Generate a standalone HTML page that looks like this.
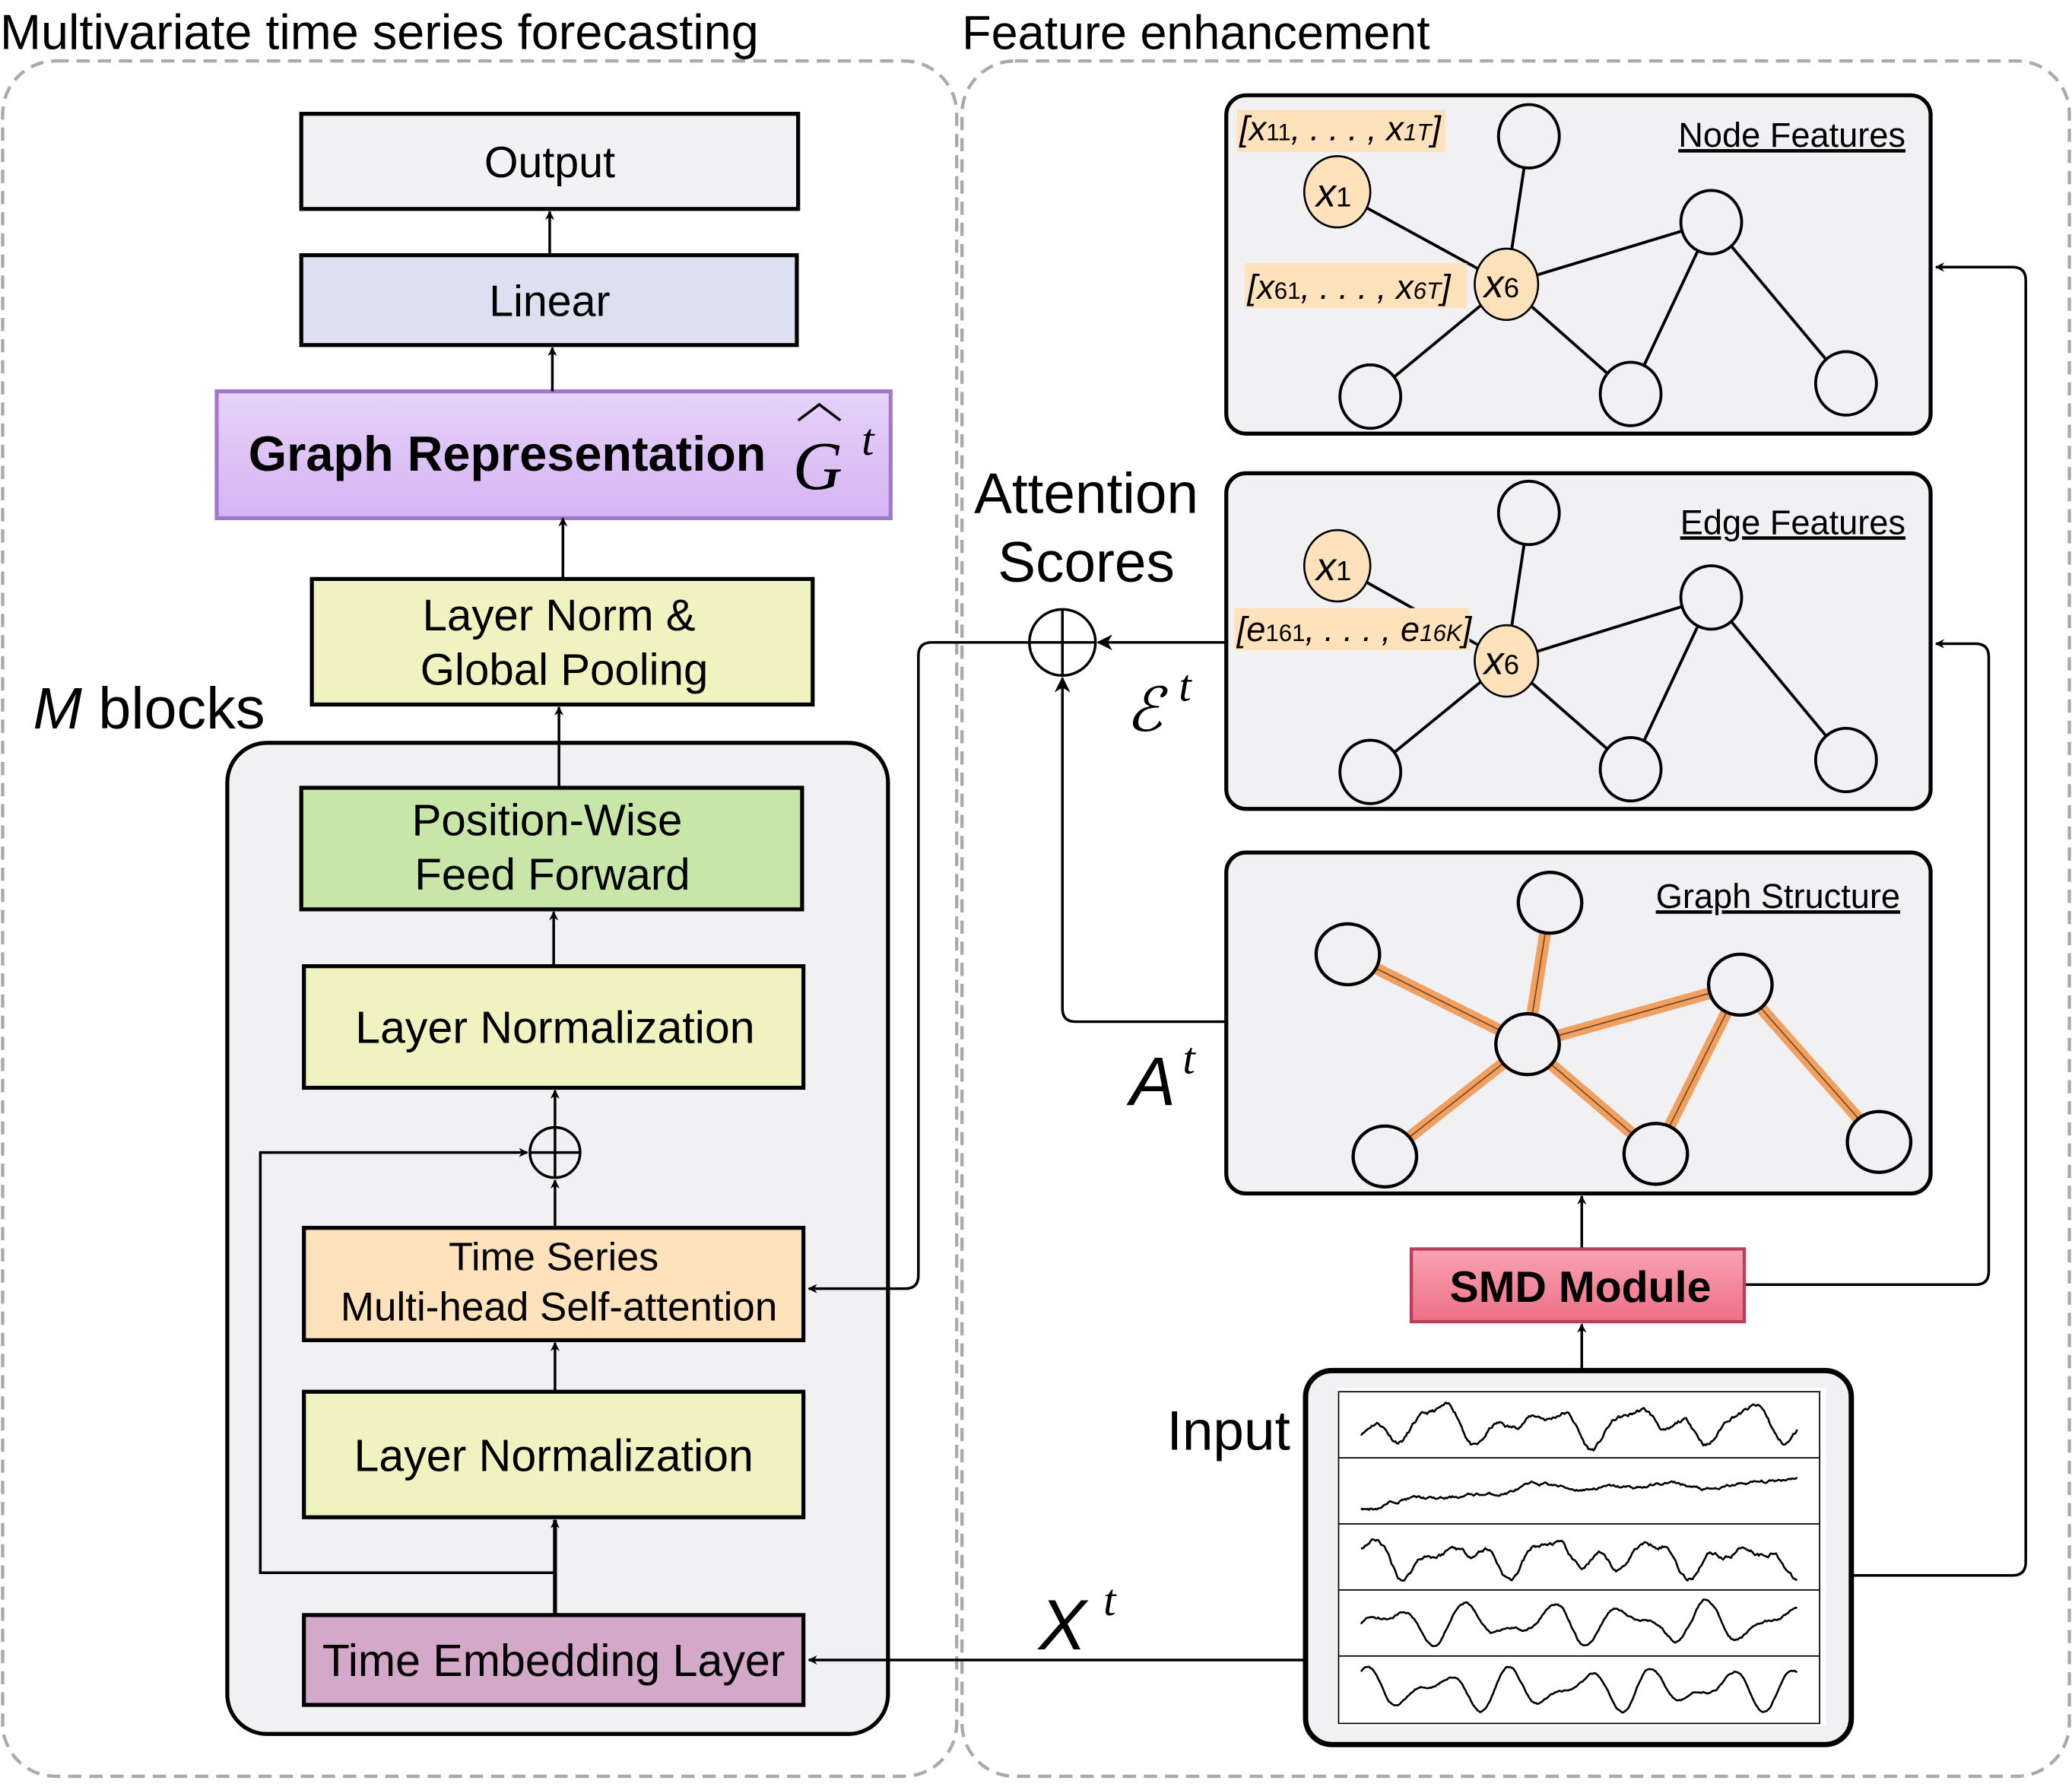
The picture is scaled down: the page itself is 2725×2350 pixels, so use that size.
<!DOCTYPE html>
<html><head><meta charset="utf-8">
<style>
html,body{margin:0;padding:0;background:#fff;}
svg{display:block;}
text{font-family:"Liberation Sans",sans-serif;}
.m{font-family:"Liberation Serif",serif;font-style:italic;}
.s{font-family:"Liberation Sans",sans-serif;font-style:italic;}
</style></head>
<body>
<svg id="s" width="2725" height="2350" viewBox="0 0 1568 1352" xmlns="http://www.w3.org/2000/svg">
<defs>
<marker id="ah" viewBox="0 0 10 10" refX="9" refY="5" markerWidth="7" markerHeight="7" orient="auto-start-reverse" markerUnits="userSpaceOnUse">
<path d="M0,0 L10,5 L0,10 L3,5 z" fill="#000"/></marker>
<marker id="ah2" viewBox="0 0 10 10" refX="9" refY="5" markerWidth="12" markerHeight="12" orient="auto" markerUnits="userSpaceOnUse">
<path d="M0,0 L10,5 L0,10 L3,5 z" fill="#000"/></marker>
<linearGradient id="gp" x1="0" y1="0" x2="0" y2="1"><stop offset="0" stop-color="#e6d2fa"/><stop offset="1" stop-color="#d4b4f2"/></linearGradient>
<linearGradient id="gs" x1="0" y1="0" x2="0" y2="1"><stop offset="0" stop-color="#f9a3b3"/><stop offset="1" stop-color="#ee6f86"/></linearGradient>
</defs>

<text x="0" y="37" font-size="37.3">Multivariate time series forecasting</text>
<text x="728" y="37" font-size="36.2">Feature enhancement</text>
<rect x="2" y="46" width="722" height="1298" rx="40" fill="none" stroke="#aaa" stroke-width="2.5" stroke-dasharray="10,6"/>
<rect x="728" y="46" width="838" height="1298" rx="40" fill="none" stroke="#aaa" stroke-width="2.5" stroke-dasharray="10,6"/>

<rect x="228" y="86" width="376" height="72" fill="#f2f2f4" stroke="#000" stroke-width="3"/>
<text x="416" y="134" font-size="33" text-anchor="middle">Output</text>
<rect x="228" y="193" width="375" height="68" fill="#dde0f0" stroke="#000" stroke-width="3"/>
<text x="416" y="239" font-size="33" text-anchor="middle">Linear</text>
<rect x="164" y="296" width="510" height="96" fill="url(#gp)" stroke="#a577cc" stroke-width="3"/>
<text x="188" y="356" font-size="37.3" font-weight="bold">Graph Representation</text>
<text x="600" y="370" font-size="52" class="m">G</text>
<path d="M604,318 L620,306 L636,318" fill="none" stroke="#000" stroke-width="2"/>
<text x="652" y="344" font-size="34" class="m">t</text>
<rect x="236" y="438" width="379" height="95" fill="#f0f2c0" stroke="#000" stroke-width="3"/>
<text x="423" y="477" font-size="33.5" text-anchor="middle">Layer Norm &amp;</text>
<text x="427" y="518" font-size="33.5" text-anchor="middle">Global Pooling</text>
<text x="25" y="551" font-size="44.5"><tspan font-style="italic">M</tspan> blocks</text>
<rect x="172" y="562" width="500" height="750" rx="30" fill="#f1f1f3" stroke="#000" stroke-width="3"/>
<rect x="228" y="596" width="379" height="92" fill="#c7e6a8" stroke="#000" stroke-width="3"/>
<text x="414" y="632" font-size="33.5" text-anchor="middle">Position-Wise</text>
<text x="418" y="673" font-size="33.5" text-anchor="middle">Feed Forward</text>
<rect x="230" y="731" width="378" height="92" fill="#f0f2c0" stroke="#000" stroke-width="3"/>
<text x="420" y="789" font-size="34" text-anchor="middle">Layer Normalization</text>
<circle cx="420" cy="872" r="19" fill="none" stroke="#000" stroke-width="2"/>
<path d="M401,872 H439 M420,853 V891" stroke="#000" stroke-width="2"/>
<rect x="230" y="929" width="378" height="85" fill="#fde2bb" stroke="#000" stroke-width="3"/>
<text x="419" y="961" font-size="30" text-anchor="middle">Time Series</text>
<text x="423" y="999" font-size="30.5" text-anchor="middle">Multi-head Self-attention</text>
<rect x="230" y="1053" width="378" height="95" fill="#f0f2c0" stroke="#000" stroke-width="3"/>
<text x="419" y="1113" font-size="34" text-anchor="middle">Layer Normalization</text>
<rect x="230" y="1222" width="378" height="68" fill="#d3a8c8" stroke="#000" stroke-width="3"/>
<text x="419" y="1268" font-size="34" text-anchor="middle">Time Embedding Layer</text>

<g stroke="#000" stroke-width="2" fill="none">
<path d="M416,193 V160" marker-end="url(#ah)"/>
<path d="M418,296 V263" marker-end="url(#ah)"/>
<path d="M426,438 V392" marker-end="url(#ah)"/>
<path d="M423,596 V535" marker-end="url(#ah)"/>
<path d="M419,731 V690" marker-end="url(#ah)"/>
<path d="M420,853 V825" marker-end="url(#ah)"/>
<path d="M420,929 V893" marker-end="url(#ah)"/>
<path d="M420,1053 V1016" marker-end="url(#ah)"/>
<path d="M420,1222 V1150" marker-end="url(#ah)" stroke-width="3"/>
<path d="M420,1190 H197 V872 H399" marker-end="url(#ah)"/>
<path d="M779,486 H705 Q695,486 695,496 V965 Q695,975 685,975 H612" marker-end="url(#ah)"/>
<path d="M928,486 H831" marker-end="url(#ah2)"/>
<path d="M928,773 H814 Q804,773 804,763 V513" marker-end="url(#ah2)"/>
<path d="M988,1256 H612" marker-end="url(#ah)"/>
<path d="M1197,945 V905" marker-end="url(#ah)"/>
<path d="M1197,1037 V1002" marker-end="url(#ah)"/>
<path d="M1320,972 H1495 Q1505,972 1505,962 V497 Q1505,487 1495,487 H1465" marker-end="url(#ah)"/>
<path d="M1401,1192 H1523 Q1533,1192 1533,1182 V212 Q1533,202 1523,202 H1465" marker-end="url(#ah)"/>
</g>
<circle cx="804" cy="486" r="25" fill="none" stroke="#000" stroke-width="2"/>
<path d="M779,486 H829 M804,461 V511" stroke="#000" stroke-width="2"/>
<text x="822" y="388" font-size="43" text-anchor="middle">Attention</text>
<text x="822" y="440" font-size="43" text-anchor="middle">Scores</text>
<text x="852" y="553" font-size="46" class="m">ℰ</text>
<text x="892" y="530" font-size="34" class="m">t</text>
<text x="855" y="836" font-size="52" class="s">A</text>
<text x="895" y="812" font-size="34" class="m">t</text>
<text x="786" y="1248" font-size="54" class="s">X</text>
<text x="835" y="1222" font-size="34" class="m">t</text>
<text x="883" y="1097" font-size="42">Input</text>

<rect x="928" y="72" width="533" height="256" rx="15" fill="#f1f1f3" stroke="#000" stroke-width="3"/>
<rect x="928" y="358" width="533" height="254" rx="15" fill="#f1f1f3" stroke="#000" stroke-width="3"/>
<rect x="928" y="645" width="533" height="258" rx="15" fill="#f1f1f3" stroke="#000" stroke-width="3"/>
<text x="1442" y="111" font-size="26" text-anchor="end" text-decoration="underline">Node Features</text>
<text x="1442" y="404" font-size="26" text-anchor="end" text-decoration="underline">Edge Features</text>
<text x="1438" y="687" font-size="26" text-anchor="end" text-decoration="underline">Graph Structure</text>

<g stroke="#000" stroke-width="2.2">
<path fill="none" d="M1012,145 L1140,215 M1157,103 L1140,215 L1295,168 M1140,215 L1037,300 M1140,215 L1234,298 M1295,168 L1234,298 M1295,168 L1397,290"/>
<ellipse cx="1157" cy="103" rx="23" ry="24" fill="#f1f1f3"/>
<ellipse cx="1295" cy="168" rx="23" ry="24" fill="#f1f1f3"/>
<ellipse cx="1037" cy="300" rx="23" ry="24" fill="#f1f1f3"/>
<ellipse cx="1234" cy="298" rx="23" ry="24" fill="#f1f1f3"/>
<ellipse cx="1397" cy="290" rx="23" ry="24" fill="#f1f1f3"/>
<ellipse cx="1012" cy="145" rx="25" ry="27" fill="#fde2bb" stroke-width="1.5"/>
<ellipse cx="1140" cy="215" rx="24" ry="27" fill="#fde2bb" stroke-width="1.5"/>
</g>
<rect x="936" y="83" width="158" height="32" fill="#fde2bb"/>
<text x="938" y="106" font-size="26" class="s">[x<tspan font-size="18" font-style="normal">11</tspan>, . . . , x<tspan font-size="18">1T</tspan>]</text>
<text x="996" y="156" font-size="30" class="s">x<tspan font-size="21" font-style="normal">1</tspan></text>
<rect x="942" y="199" width="168" height="34" fill="#fde2bb"/>
<text x="944" y="226" font-size="26" class="s">[x<tspan font-size="18" font-style="normal">61</tspan>, . . . , x<tspan font-size="18">6T</tspan>]</text>
<text x="1123" y="225" font-size="30" class="s">x<tspan font-size="21" font-style="normal">6</tspan></text>

<g stroke="#000" stroke-width="2.2">
<path fill="none" d="M1012,428 L1140,500 M1157,388 L1140,500 L1295,452 M1140,500 L1037,584 M1140,500 L1234,582 M1295,452 L1234,582 M1295,452 L1397,575"/>
<ellipse cx="1157" cy="388" rx="23" ry="24" fill="#f1f1f3"/>
<ellipse cx="1295" cy="452" rx="23" ry="24" fill="#f1f1f3"/>
<ellipse cx="1037" cy="584" rx="23" ry="24" fill="#f1f1f3"/>
<ellipse cx="1234" cy="582" rx="23" ry="24" fill="#f1f1f3"/>
<ellipse cx="1397" cy="575" rx="23" ry="24" fill="#f1f1f3"/>
<ellipse cx="1012" cy="428" rx="25" ry="27" fill="#fde2bb" stroke-width="1.5"/>
<ellipse cx="1140" cy="500" rx="24" ry="27" fill="#fde2bb" stroke-width="1.5"/>
</g>
<rect x="934" y="460" width="178" height="32" fill="#fde2bb"/>
<text x="936" y="485" font-size="26" class="s">[e<tspan font-size="18" font-style="normal">161</tspan>, . . . , e<tspan font-size="18">16K</tspan>]</text>
<text x="996" y="439" font-size="30" class="s">x<tspan font-size="21" font-style="normal">1</tspan></text>
<text x="1123" y="510" font-size="30" class="s">x<tspan font-size="21" font-style="normal">6</tspan></text>

<g stroke-linecap="round" fill="none">
<path d="M1020,722 L1156,790 M1173,683 L1156,790 L1317,745 M1156,790 L1048,875 M1156,790 L1253,873 M1317,745 L1253,873 M1317,745 L1422,864" stroke="#f0a060" stroke-width="9"/>
<path d="M1020,722 L1156,790 M1173,683 L1156,790 L1317,745 M1156,790 L1048,875 M1156,790 L1253,873 M1317,745 L1253,873 M1317,745 L1422,864" stroke="#7a4a20" stroke-width="1"/>
</g>
<g stroke="#000" stroke-width="2.5" fill="#f1f1f3">
<ellipse cx="1020" cy="722" rx="24" ry="23"/>
<ellipse cx="1173" cy="683" rx="24" ry="23"/>
<ellipse cx="1156" cy="790" rx="24" ry="23"/>
<ellipse cx="1317" cy="745" rx="24" ry="23"/>
<ellipse cx="1048" cy="875" rx="24" ry="23"/>
<ellipse cx="1253" cy="873" rx="24" ry="23"/>
<ellipse cx="1422" cy="864" rx="24" ry="23"/>
</g>

<rect x="1068" y="945" width="252" height="55" fill="url(#gs)" stroke="#b8405a" stroke-width="2.5"/>
<text x="1196" y="985" font-size="33" font-weight="bold" text-anchor="middle">SMD Module</text>

<rect x="988" y="1037" width="413" height="283" rx="20" fill="#f1f1f3" stroke="#000" stroke-width="4"/>
<rect x="1012" y="1050" width="370" height="256" fill="#fff"/>
<rect x="1013" y="1053" width="364" height="251" fill="#fff" stroke="#000" stroke-width="1"/>
<path d="M1013,1103 H1377 M1013,1153 H1377 M1013,1203 H1377 M1013,1253 H1377" stroke="#000" stroke-width="1"/>
<g id="waves" fill="none" stroke="#000" stroke-width="1.5"></g>
<script>
(function(){
var g=document.getElementById('waves');var seed=11;
function r(){seed=(seed*16807)%2147483647;return seed/2147483647-0.5;}
var cfg=[[1078,[4.2,7.1,11.3],17,1.4],[1128,[1.2,3.6,6.5],9,1.0],[1178,[4.6,7.7,12.1],16,1.5],[1228,[5.5,8.9],20,0.8],[1278,[6.1,9.3],20,0.6]];
cfg.forEach(function(c,k){var d='';var ph=[r()*6,r()*6,r()*6];var rw=0;
for(var i=0;i<=330;i++){var x=1030+i;var t=i/330*6.283;var y=0;c[1].forEach(function(f,j){y+=Math.sin(t*f+ph[j])/(j*0.6+1);});
rw+=r()*c[3];rw*=0.85;
if(k==1)y=y*0.6+(i-150)/90;
y=c[0]-y*c[2]*0.55-rw*2;d+=(i?'L':'M')+x+','+y.toFixed(1);}
var p=document.createElementNS('http://www.w3.org/2000/svg','path');p.setAttribute('d',d);g.appendChild(p);});
})();
</script>
</svg>
</body></html>
